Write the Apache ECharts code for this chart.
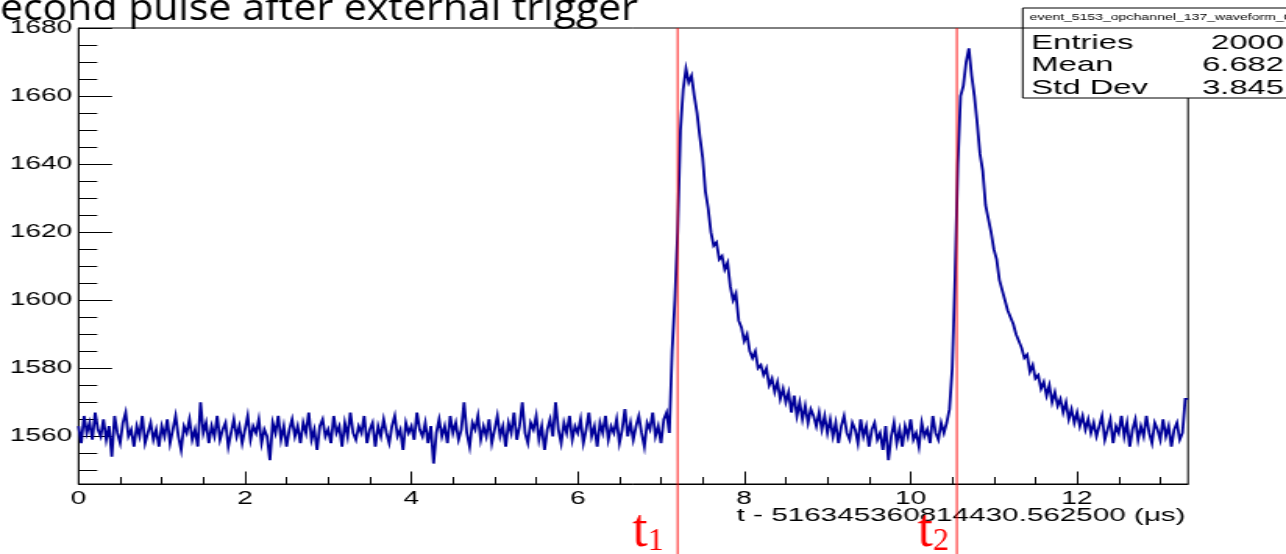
<!DOCTYPE html>
<html><head><meta charset="utf-8">
<script src="https://cdn.jsdelivr.net/npm/echarts@6/dist/echarts.min.js"></script>
<style>
html,body{margin:0;padding:0;overflow:hidden;background:#fff;width:1286px;height:554px;}
#chart{width:824px;height:554px;transform:scaleX(1.56068);transform-origin:0 0;}
</style></head><body><div id="chart"></div>
<script>
// ---- data ----
const binStart = 0;
const binWidth = 1 / 30;   // µs per plotted step
const adcCounts = [
1563,1558,1566,1561,1564,1559,1567,1562,1560,1565,
1559,1563,1554,1566,1561,1558,1564,1567,1560,1562,
1557,1563,1560,1566,1558,1561,1564,1559,1562,1557,
1563,1560,1565,1558,1562,1566,1560,1556,1563,1561,
1565,1559,1562,1557,1570,1561,1564,1558,1563,1560,
1566,1559,1562,1564,1557,1561,1565,1560,1563,1558,
1562,1566,1559,1563,1561,1565,1558,1562,1560,1553,
1564,1561,1566,1559,1563,1557,1562,1565,1560,1563,
1558,1564,1561,1567,1559,1562,1556,1563,1565,1560,
1562,1558,1566,1561,1563,1557,1564,1560,1567,1561,
1559,1563,1561,1566,1558,1562,1564,1557,1563,1560,
1565,1561,1558,1563,1566,1560,1562,1556,1564,1561,
1563,1559,1567,1562,1560,1564,1558,1563,1552,1561,
1565,1560,1563,1558,1566,1561,1564,1559,1562,1570,
1561,1557,1564,1562,1566,1559,1563,1560,1565,1558,
1562,1566,1560,1563,1557,1564,1561,1567,1559,1563,
1570,1561,1558,1564,1562,1566,1559,1563,1556,1562,
1565,1560,1570,1562,1558,1564,1561,1566,1559,1563,
1561,1565,1558,1562,1567,1560,1563,1557,1564,1561,
1566,1559,1563,1561,1565,1558,1562,1568,1560,1564,
1559,1563,1566,1561,1557,1564,1562,1567,1560,1563,
1558,1565,1567,1561,
1585,1600,1620,1650,1662,1668,1664,1666,1660,1655,
1648,1642,1632,1627,1620,1616,1617,1612,1613,1609,
1611,1604,1600,1602,1594,1592,1588,1590,1585,1583,
1585,1580,1581,1578,1580,1575,1577,1573,1576,1571,
1574,1570,1573,1567,1572,1566,1570,1565,1569,1564,
1568,1566,1563,1567,1562,1566,
1561,1565,1560,1564,1558,1563,1566,1561,1559,1564,
1562,1558,1565,1560,1563,1557,1562,1564,1559,1561,
1556,1563,1553,1560,1564,1558,1562,1557,1563,1560,
1565,1559,1561,1557,1564,1560,1562,1558,1566,1561,
1559,1564,1561,1564,
1568,1580,1606,1640,1660,1663,1670,1674,1666,1660,
1652,1643,1638,1628,1624,1620,1615,1612,1606,1603,
1600,1597,1595,1593,1590,1588,1586,1583,1584,1579,
1581,1577,1578,1574,1576,1572,1575,1570,1573,1569,
1571,1567,1570,1565,1568,1564,1567,1563,1566,1562,
1565,1561,
1564,1560,1563,1566,1559,1562,1565,1558,1563,1561,
1566,1560,1564,1557,1562,1565,1559,1563,1560,1566,
1561,1558,1564,1562,1559,1565,1560,1563,1557,1562,
1564,1559,1561,1571
];
const xRange = [0, 40 / 3];
const yRange = [1546, 1680];
const xMajorTicks = [0, 2, 4, 6, 8, 10, 12];
const xMinorTicks = [0.5, 1, 1.5, 2.5, 3, 3.5, 4.5, 5, 5.5, 6.5, 7, 7.5, 8.5, 9, 9.5, 10.5, 11, 11.5, 12.5, 13];
const yMajorTicks = [1560, 1580, 1600, 1620, 1640, 1660, 1680];
const yMinorTicks = [1550, 1555, 1565, 1570, 1575, 1585, 1590, 1595, 1605, 1610, 1615, 1625, 1630, 1635, 1645, 1650, 1655, 1665, 1670, 1675];
const xTitle = 't - 516345360814430.562500 (\u03bcs)';
const plotTitle = 'Second pulse after external trigger';
const statsName = 'event_5153_opchannel_137_waveform_0';
const statsLabels = ['Entries', 'Mean', 'Std Dev'];
const statsValues = ['2000', '6.682', '3.845'];
const triggerTimes = [7.20, 10.555];
const triggerLabels = ['1', '2'];

// ---- chart ----
const S = 1286 / 824; // horizontal stretch of the reference picture
const seriesData = adcCounts.map((v, i) => [binStart + i * binWidth, v]);
seriesData.push([binStart + adcCounts.length * binWidth, adcCounts[adcCounts.length - 1]]);

const axisFont = 'Liberation Sans, Arial, sans-serif';
const chart = echarts.init(document.getElementById('chart'), null, {width: 824, height: 554, renderer: 'canvas'});
const option = {
  animation: false,
  backgroundColor: '#fff',
  grid: {left: 50.3, right: 62.8, top: 28, bottom: 70, containLabel: false, outerBoundsMode: 'none',
         show: true, borderColor: '#000', borderWidth: 1, backgroundColor: 'transparent'},
  xAxis: [
    {type: 'value', min: xRange[0], max: xRange[1], position: 'bottom',
     axisLine: {show: true, onZero: false, lineStyle: {color: '#000', width: 1}},
     axisTick: {show: true, inside: true, length: 12.5, customValues: xMajorTicks, lineStyle: {color: '#000', width: 1}},
     axisLabel: {customValues: xMajorTicks, color: '#000', fontSize: 18, fontFamily: axisFont, margin: 6, formatter: v => String(v)},
     splitLine: {show: false}},
    {type: 'value', min: xRange[0], max: xRange[1], position: 'bottom',
     axisLine: {show: false, onZero: false},
     axisTick: {show: true, inside: true, length: 7, customValues: xMinorTicks, lineStyle: {color: '#000', width: 1}},
     axisLabel: {show: false}, splitLine: {show: false}}
  ],
  yAxis: [
    {type: 'value', min: yRange[0], max: yRange[1], position: 'left',
     axisLine: {show: true, onZero: false, lineStyle: {color: '#000', width: 1}},
     axisTick: {show: true, inside: true, length: 21.5, customValues: yMajorTicks, lineStyle: {color: '#000', width: 1}},
     axisLabel: {customValues: yMajorTicks, color: '#000', fontSize: 18, fontFamily: axisFont, margin: 4, formatter: v => String(v)},
     splitLine: {show: false}},
    {type: 'value', min: yRange[0], max: yRange[1], position: 'left',
     axisLine: {show: false, onZero: false},
     axisTick: {show: true, inside: true, length: 12, customValues: yMinorTicks, lineStyle: {color: '#000', width: 1}},
     axisLabel: {show: false}, splitLine: {show: false}}
  ],
  series: [{
    type: 'line', step: 'end', xAxisIndex: 0, yAxisIndex: 0, data: seriesData,
    symbol: 'none', clip: true, lineStyle: {color: '#000099', width: 1.8, join: 'miter', cap: 'butt'}, z: 3
  }]
};
chart.setOption(option);

// annotations placed through the chart's own scale
const graphics = [];
// x-axis title, right-aligned at the end of the axis
const axisEndPx = chart.convertToPixel({xAxisIndex: 0}, xRange[1]);
graphics.push({type: 'text', z: 100, x: axisEndPx - 1.5, y: 506,
  style: {text: xTitle, fontSize: 19, fontFamily: axisFont, fill: '#000', align: 'right', verticalAlign: 'top'}});
// title (slide text, not stretched)
graphics.push({type: 'text', x: -14.5, y: 10, scaleX: 1.14 / S, z: 100,
  style: {text: plotTitle, fontSize: 36, fontFamily: 'Open Sans, sans-serif', fill: '#000', align: 'left', verticalAlign: 'middle'}});
// stats box
const bx = 655.3, by = 8, bw = 200, bh = 90;
graphics.push({type: 'rect', z: 100, shape: {x: bx, y: by, width: bw, height: bh}, style: {fill: '#fff', stroke: '#000', lineWidth: 1}});
graphics.push({type: 'line', z: 101, shape: {x1: bx, y1: 28, x2: bx + bw, y2: 28}, style: {stroke: '#000', lineWidth: 1}});
graphics.push({type: 'text', z: 101, x: bx + 4.5, y: 18, style: {text: statsName, fontSize: 9, fontFamily: axisFont, fill: '#000', align: 'left', verticalAlign: 'middle'}});
const rowY = [43, 65, 88];
statsLabels.forEach((lab, i) => {
  graphics.push({type: 'text', z: 101, x: bx + 5.5, y: rowY[i], style: {text: lab, fontSize: 21, fontFamily: axisFont, fill: '#000', align: 'left', verticalAlign: 'middle'}});
  graphics.push({type: 'text', z: 101, x: 822.7, y: rowY[i], style: {text: statsValues[i], fontSize: 21, fontFamily: axisFont, fill: '#000', align: 'right', verticalAlign: 'middle'}});
});
// trigger markers
const labelShift = [-45, -39]; // screen px from marker line to label
triggerTimes.forEach((t, i) => {
  const px = chart.convertToPixel({xAxisIndex: 0}, t);
  graphics.push({type: 'line', z: 102, shape: {x1: px, y1: 28, x2: px, y2: 554}, style: {stroke: '#ff0000', lineWidth: 0.9}});
  graphics.push({type: 'text', z: 102, x: px + labelShift[i] / S, y: 532, scaleX: 1 / S,
    style: {text: 't', fontSize: 54, fontFamily: 'Liberation Serif, Times New Roman, serif', fill: '#ff0000', align: 'left', verticalAlign: 'middle'}});
  graphics.push({type: 'text', z: 102, x: px + (labelShift[i] + 15) / S, y: 542, scaleX: 1 / S,
    style: {text: triggerLabels[i], fontSize: 32, fontFamily: 'Liberation Serif, Times New Roman, serif', fill: '#ff0000', align: 'left', verticalAlign: 'middle'}});
});
chart.setOption({graphic: graphics});
</script>
</body></html>
